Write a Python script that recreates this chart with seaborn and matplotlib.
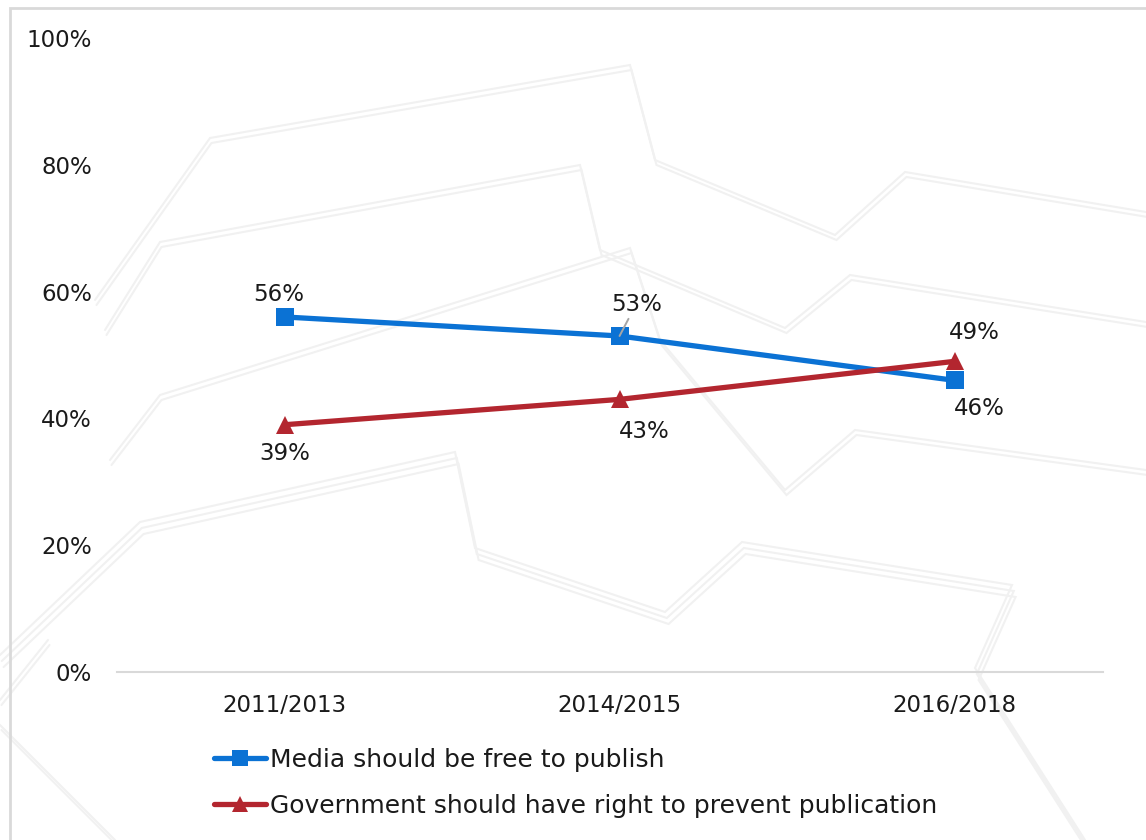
import matplotlib
matplotlib.use("Agg")
import matplotlib.pyplot as plt
import seaborn as sns
import pandas as pd
from matplotlib.patches import Rectangle
from matplotlib.lines import Line2D

# ---- data ----
periods = ["2011/2013", "2014/2015", "2016/2018"]
media_free = [56, 53, 46]
gov_prevent = [39, 43, 49]
series_names = ["Media should be free to publish",
                "Government should have right to prevent publication"]
y_ticks = [0, 20, 40, 60, 80, 100]

BLUE = "#0B72D4"
RED = "#B3262F"
TEXT = "#1a1a1a"
GRID = "#d9d9d9"
FS = 16.5

sns.set_theme(style="white")
plt.rcParams["font.family"] = ["DejaVu Sans"]

W, H = 1146, 840
fig = plt.figure(figsize=(W / 100, H / 100), dpi=100)
fig.patch.set_facecolor("white")


def px(x, y):
    return x / W, 1 - y / H


# faint decorative background strokes
deco = [
    [(95, 300), (210, 138), (630, 65), (655, 160), (835, 235), (905, 172), (1146, 212)],
    [(105, 330), (160, 242), (580, 165), (600, 250), (785, 328), (850, 275), (1146, 322)],
    [(110, 460), (160, 395), (630, 248), (660, 340), (785, 490), (855, 430), (1146, 470)],
    [(0, 655), (140, 522), (455, 452), (475, 548), (665, 612), (742, 542), (1012, 585), (975, 668), (1085, 840)],
    [(48, 640), (0, 700)],
    [(0, 725), (115, 840)],
]
for k, poly in enumerate(deco):
    offsets = [0, 6, 12] if k == 3 else [0, 5]
    for o in offsets:
        xs = [px(x + o * 0.3, y + o)[0] for x, y in poly]
        ys = [px(x + o * 0.3, y + o)[1] for x, y in poly]
        fig.add_artist(Line2D(xs, ys, color="#f1f1f1", lw=1.5, zorder=0,
                              solid_joinstyle="miter"))

# chart border (top and left edges visible)
fig.add_artist(Rectangle(px(10, 860), (W + 20) / W, 852 / H, fill=False,
                         edgecolor=GRID, lw=2, zorder=1))

ax = fig.add_axes([117 / W, 0.2, 986 / W, (672 - 38) / H])
ax.patch.set_alpha(0)

df = pd.DataFrame({
    "pos": list(range(len(periods))) * 2,
    "value": media_free + gov_prevent,
    "series": [series_names[0]] * 3 + [series_names[1]] * 3,
})

sns.lineplot(data=df, x="pos", y="value", hue="series", style="series",
             markers={series_names[0]: "s", series_names[1]: "^"},
             dashes=False, palette={series_names[0]: BLUE, series_names[1]: RED},
             linewidth=3.8, markersize=13, markeredgewidth=0, ax=ax,
             legend=False, zorder=3)

ax.set_xlim(-0.5, 2.443)
ax.set_ylim(0, 100)
ax.set_xticks(range(len(periods)))
ax.set_xticklabels(periods)
ax.set_yticks(y_ticks)
ax.set_yticklabels([f"{v}%" for v in y_ticks])
ax.set_xlabel("")
ax.set_ylabel("")
ax.tick_params(axis="both", length=0, labelsize=FS, colors=TEXT)
ax.tick_params(axis="y", pad=18)
ax.tick_params(axis="x", pad=16)
for s in ["top", "right", "left"]:
    ax.spines[s].set_visible(False)
ax.spines["bottom"].set_color(GRID)
ax.spines["bottom"].set_linewidth(1.5)
ax.grid(False)

# value labels (offsets in points)
media_offsets = [(-4, 16), (12, 23), (18, -20)]
gov_offsets = [(0, -21), (18, -23), (14, 21)]
for i, v in enumerate(media_free):
    kw = {}
    if i == 1:
        kw["arrowprops"] = dict(arrowstyle="-", color="#a6a6a6", lw=1.4,
                                shrinkA=0, shrinkB=0)
    ax.annotate(f"{v}%", (i, v), xytext=media_offsets[i], textcoords="offset points",
                ha="center", va="center", fontsize=FS, color=TEXT, zorder=5, **kw)
for i, v in enumerate(gov_prevent):
    ax.annotate(f"{v}%", (i, v), xytext=gov_offsets[i], textcoords="offset points",
                ha="center", va="center", fontsize=FS, color=TEXT, zorder=5)

handles = [
    Line2D([], [], color=BLUE, lw=3.8, marker="s", markersize=12, markeredgewidth=0),
    Line2D([], [], color=RED, lw=3.8, marker="^", markersize=12, markeredgewidth=0),
]
fig.legend(handles, series_names, loc="upper left",
           bbox_to_anchor=px(206, 740), frameon=False, fontsize=18,
           handlelength=2.1, handletextpad=0.15, labelspacing=0.9,
           labelcolor=TEXT, borderaxespad=0, borderpad=0.3)

fig.savefig("out.png", dpi=100, facecolor="white")
